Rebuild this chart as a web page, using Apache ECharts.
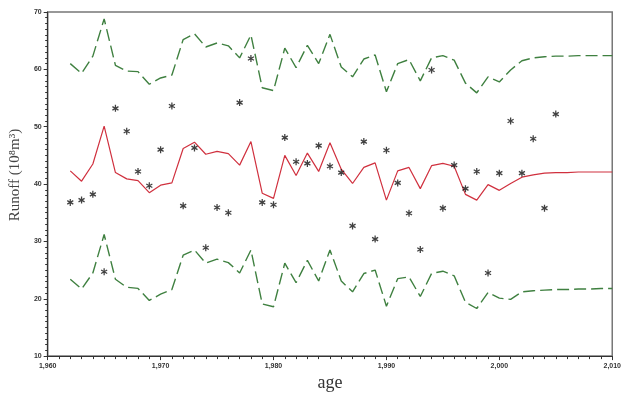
<!DOCTYPE html>
<html>
<head>
<meta charset="utf-8">
<script src="https://cdn.jsdelivr.net/npm/echarts@6/dist/echarts.min.js"></script>
<style>
html,body{margin:0;padding:0;background:#fff;}
#c{width:624px;height:397px;}
</style>
</head>
<body>
<div id="c"></div>
<script>
// Years
var fitYears = [1962,1963,1964,1965,1966,1967,1968,1969,1970,1971,1972,1973,1974,1975,1976,1977,1978,1979,1980,1981,1982,1983,1984,1985,1986,1987,1988,1989,1990,1991,1992,1993,1994,1995,1996,1997,1998,1999,2000,2001,2002,2003,2004,2005,2006,2007,2008,2009,2010];
// Fitted (middle, red)
var fitted = [42.3,40.5,43.5,50.1,42.0,40.9,40.6,38.5,39.8,40.2,46.2,47.3,45.2,45.7,45.3,43.3,47.4,38.4,37.5,45.0,41.5,45.4,42.2,47.2,42.6,40.1,42.9,43.7,37.2,42.3,42.9,39.2,43.2,43.6,43.1,38.2,37.2,39.9,38.9,40.1,41.2,41.6,41.9,42.0,42.0,42.1,42.1,42.1,42.1];
// Upper bound (green dashed)
var upper = [61.0,59.3,62.3,68.8,60.7,59.7,59.6,57.4,58.5,59.0,65.2,66.2,63.9,64.6,64.1,62.0,66.0,56.8,56.3,63.7,60.3,64.2,61.0,66.1,60.4,58.7,61.8,62.5,56.1,61.0,61.7,58.0,62.0,62.4,61.6,57.6,55.9,58.7,57.8,59.9,61.5,62.0,62.2,62.3,62.3,62.4,62.4,62.4,62.4];
// Lower bound (green dashed)
var lower = [23.4,21.7,24.5,31.2,23.4,22.0,21.8,19.7,20.8,21.6,27.6,28.5,26.2,26.9,26.3,24.5,28.5,19.1,18.6,26.2,22.8,26.7,23.1,28.5,23.1,21.2,24.4,25.0,18.7,23.5,23.8,20.4,24.4,24.8,24.0,19.4,18.3,21.1,20.1,19.9,21.2,21.4,21.5,21.6,21.6,21.7,21.7,21.8,21.8];
// Observed (asterisks)
var obsYears = [1962,1963,1964,1965,1966,1967,1968,1969,1970,1971,1972,1973,1974,1975,1976,1977,1978,1979,1980,1981,1982,1983,1984,1985,1986,1987,1988,1989,1990,1991,1992,1993,1994,1995,1996,1997,1998,1999,2000,2001,2002,2003,2004,2005];
var observed = [36.8,37.2,38.2,24.7,53.2,49.2,42.2,39.7,46.0,53.6,36.2,46.3,28.9,35.9,35.0,54.2,61.9,36.8,36.4,48.1,43.9,43.6,46.7,43.1,42.0,32.7,47.4,30.4,45.9,40.2,34.9,28.6,59.9,35.8,43.3,39.2,42.2,24.5,41.9,51.0,41.9,47.9,35.8,52.2];

function pairs(xs, ys){ return xs.map(function(x,i){ return [x, ys[i]]; }); }

var star = 'path://M-0.18,-1 L0.18,-1 L0.18,1 L-0.18,1 Z M0.776,-0.656 L0.956,-0.344 L-0.776,0.656 L-0.956,0.344 Z M0.956,0.344 L0.776,0.656 L-0.956,-0.344 L-0.776,-0.656 Z';

var chart = echarts.init(document.getElementById('c'), null, {renderer:'canvas'});
var tickFont = {fontFamily:'Liberation Sans, Arial, sans-serif', fontSize:7, fontWeight:'bold', color:'#333'};
chart.setOption({
  animation:false,
  backgroundColor:'#fff',
  grid:{left:43, right:7, top:12, bottom:31, show:true, borderColor:'#777', borderWidth:1.5, backgroundColor:'transparent'},
  xAxis:{
    type:'value', min:1960, max:2010, interval:10,
    name:'age', nameLocation:'middle', nameGap:13,
    nameTextStyle:{fontFamily:'Liberation Serif, Times New Roman, serif', fontSize:18, color:'#333'},
    axisLine:{lineStyle:{color:'#333', width:1.2}},
    axisTick:{length:4, lineStyle:{color:'#333'}},
    minorTick:{show:true, splitNumber:10, length:3, lineStyle:{color:'#333'}},
    splitLine:{show:false},
    axisLabel:Object.assign({margin:6}, tickFont)
  },
  yAxis:{
    type:'value', min:10, max:70, interval:10,
    name:'Runoff (10⁸m³)', nameLocation:'middle', nameGap:19, nameRotate:90,
    nameTextStyle:{fontFamily:'Liberation Serif, Times New Roman, serif', fontSize:15, color:'#444', padding:[0,0,0,18]},
    axisLine:{show:true, lineStyle:{color:'#333', width:1.2}},
    axisTick:{show:true, length:4, lineStyle:{color:'#333'}},
    minorTick:{show:true, splitNumber:10, length:2.5, lineStyle:{color:'#333'}},
    splitLine:{show:false},
    axisLabel:Object.assign({margin:6}, tickFont)
  },
  series:[
    {type:'line', data:pairs(fitYears, upper), symbol:'none', lineStyle:{color:'#3f8040', width:1.4, type:[12,5]}, z:2},
    {type:'line', data:pairs(fitYears, lower), symbol:'none', lineStyle:{color:'#3f8040', width:1.4, type:[12,5]}, z:2},
    {type:'line', data:pairs(fitYears, fitted), symbol:'none', lineStyle:{color:'#d0303e', width:1.2}, z:3},
    {type:'scatter', data:pairs(obsYears, observed), symbol:star, symbolSize:7, symbolKeepAspect:true, itemStyle:{color:'#111'}, z:4}
  ]
});
</script>
</body>
</html>
